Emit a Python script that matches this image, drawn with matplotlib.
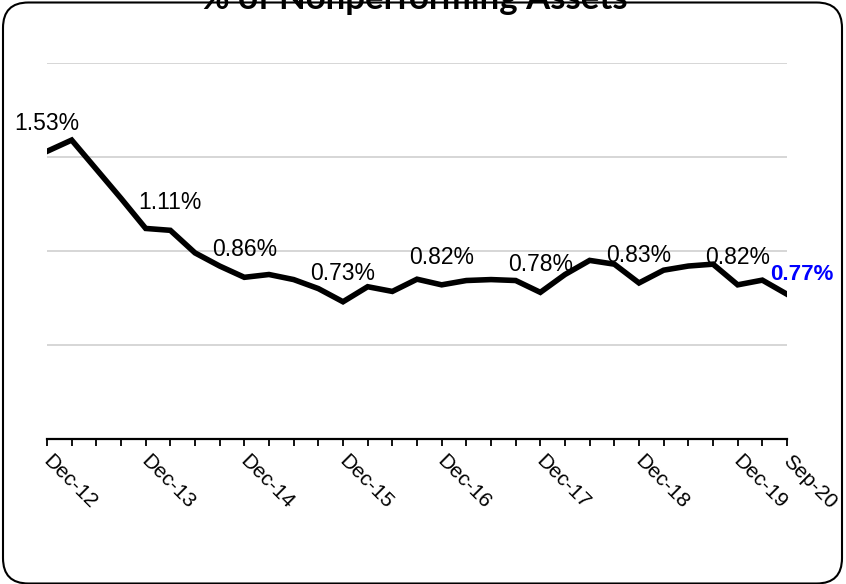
import matplotlib
matplotlib.use("Agg")
from matplotlib import pyplot as plt
from matplotlib.patches import FancyBboxPatch
from matplotlib.transforms import ScaledTranslation

# quarterly NPA ratio, Dec-12 .. Sep-20
npa = [1.53, 1.59, 1.435, 1.28, 1.12, 1.11, 0.99, 0.92, 0.86, 0.875,
       0.848, 0.80, 0.73, 0.81, 0.785, 0.85, 0.82, 0.843, 0.848, 0.843,
       0.78, 0.875, 0.95, 0.93, 0.83, 0.898, 0.92, 0.93, 0.82, 0.845, 0.77]
tick_labels = {0: 'Dec-12', 4: 'Dec-13', 8: 'Dec-14', 12: 'Dec-15', 16: 'Dec-16',
               20: 'Dec-17', 24: 'Dec-18', 28: 'Dec-19', 30: 'Sep-20'}
label_idx = [0, 5, 8, 12, 16, 20, 24, 28]
label_txt = ['1.53%', '1.11%', '0.86%', '0.73%', '0.82%', '0.78%', '0.83%', '0.82%']
last_txt = '0.77%'

plt.rcParams['font.family'] = ['Liberation Sans', 'DejaVu Sans']

W, H = 846, 584
fig = plt.figure(figsize=(W / 100, H / 100), dpi=100)
ax = fig.add_axes([47 / W, (H - 439) / H, 740 / W, 376 / H])

x = list(range(len(npa)))
ax.plot(x, npa, color='black', lw=4, solid_joinstyle='miter', zorder=3)

ax.set_xlim(0, len(npa) - 1)
ax.set_ylim(0, 2.0)
ax.set_yticks([0.5, 1.0, 1.5, 2.0])
ax.yaxis.grid(True, color='#d0d0d0', lw=1.2)
ax.set_axisbelow(True)
ax.tick_params(axis='y', left=False, labelleft=False)
for s in ['left', 'right', 'top']:
    ax.spines[s].set_visible(False)
ax.spines['bottom'].set_linewidth(1.6)

ax.set_xticks(x)
ax.set_xticklabels([tick_labels.get(i, '') for i in x], rotation=-45,
                   ha='left', va='top', fontsize=15)
ax.tick_params(axis='x', length=5, width=1.3, pad=4, direction='out')
# nudge the rotated labels so they start right at the tick
shift = ScaledTranslation(-8 / 100, 0, fig.dpi_scale_trans)
for lbl in ax.get_xticklabels():
    lbl.set_transform(lbl.get_transform() + shift)

for i, t in zip(label_idx, label_txt):
    ax.annotate(t, (i, npa[i]), xytext=(0, 20), textcoords='offset points',
                ha='center', va='center', fontsize=16.5, zorder=4)
ax.annotate(last_txt, (x[-1], npa[-1]), xytext=(11, 14), textcoords='offset points',
            ha='center', va='center', fontsize=16, fontweight='bold',
            color='#0000ff', annotation_clip=False, zorder=4)

fig.text(0.49, 1 - 9 / H, '% of Nonperforming Assets', ha='center', va='baseline',
         fontsize=25, fontweight='bold', family=['Lato', 'DejaVu Sans'])

box = FancyBboxPatch((3 / W, 0.5 / H), 839 / W, 581 / H,
                     boxstyle='round,pad=0,rounding_size=0.03',
                     transform=fig.transFigure, fill=False, ec='black', lw=1.5,
                     mutation_aspect=W / H)
fig.patches.append(box)

plt.savefig('out.png', dpi=100)
